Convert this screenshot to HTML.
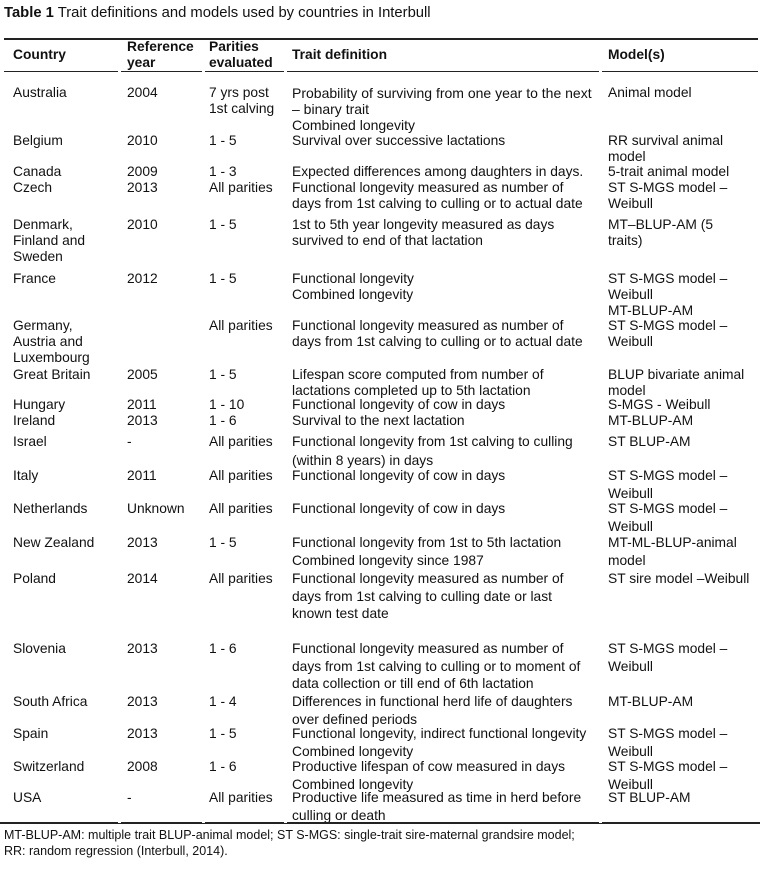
<!DOCTYPE html>
<html><head><meta charset="utf-8"><style>
body{margin:0;width:760px;height:875px;background:#fff;position:relative;overflow:hidden;font-family:"Liberation Sans",Arial,sans-serif;color:#111}
.t{position:absolute;font-size:13.8px;white-space:pre;line-height:16px}
.b{font-weight:bold}
.l{position:absolute;height:1.5px;background:#222}
.g{position:absolute;width:3px;height:3px;background:#fff}
.r{line-height:17.5px}
</style></head><body>
<div class="t" style="left:4px;top:5px;font-size:14.8px"><b>Table 1</b> Trait definitions and models used by countries in Interbull</div>
<div class="l" style="left:4px;width:754px;top:38px"></div>
<div class="l" style="left:4px;width:754px;top:71px;height:1px"></div>
<div class="g" style="left:118px;top:70px"></div><div class="g" style="left:202px;top:70px"></div><div class="g" style="left:284px;top:70px"></div><div class="g" style="left:599px;top:70px"></div>
<div class="t b" style="left:13px;top:47px">Country</div>
<div class="t b" style="left:127px;top:39px">Reference
year</div>
<div class="t b" style="left:209px;top:39px">Parities
evaluated</div>
<div class="t b" style="left:292px;top:47px">Trait definition</div>
<div class="t b" style="left:608px;top:47px">Model(s)</div>

<div class="t" style="left:13px;top:85px">Australia</div><div class="t" style="left:127px;top:85px">2004</div><div class="t" style="left:209px;top:85px">7 yrs post
1st calving</div><div class="t" style="left:292px;top:85px;font-size:14px">Probability of surviving from one year to the next
– binary trait
Combined longevity</div><div class="t" style="left:608px;top:85px">Animal model</div>

<div class="t" style="left:13px;top:133px">Belgium</div><div class="t" style="left:127px;top:133px">2010</div><div class="t" style="left:209px;top:133px">1 - 5</div><div class="t" style="left:292px;top:133px">Survival over successive lactations</div><div class="t" style="left:608px;top:133px">RR survival animal
model</div>

<div class="t" style="left:13px;top:164px">Canada</div><div class="t" style="left:127px;top:164px">2009</div><div class="t" style="left:209px;top:164px">1 - 3</div><div class="t" style="left:292px;top:164px">Expected differences among daughters in days.</div><div class="t" style="left:608px;top:164px">5-trait animal model</div>

<div class="t" style="left:13px;top:180px">Czech</div><div class="t" style="left:127px;top:180px">2013</div><div class="t" style="left:209px;top:180px">All parities</div><div class="t" style="left:292px;top:180px">Functional longevity measured as number of
days from 1st calving to culling or to actual date</div><div class="t" style="left:608px;top:180px">ST S-MGS model –
Weibull</div>

<div class="t" style="left:13px;top:217px">Denmark,
Finland and
Sweden</div><div class="t" style="left:127px;top:217px">2010</div><div class="t" style="left:209px;top:217px">1 - 5</div><div class="t" style="left:292px;top:217px">1st to 5th year longevity measured as days
survived to end of that lactation</div><div class="t" style="left:608px;top:217px">MT–BLUP-AM (5
traits)</div>

<div class="t" style="left:13px;top:271px">France</div><div class="t" style="left:127px;top:271px">2012</div><div class="t" style="left:209px;top:271px">1 - 5</div><div class="t" style="left:292px;top:271px">Functional longevity
Combined longevity</div><div class="t" style="left:608px;top:271px">ST S-MGS model –
Weibull
MT-BLUP-AM</div>

<div class="t" style="left:13px;top:318px">Germany,
Austria and
Luxembourg</div><div class="t" style="left:209px;top:318px">All parities</div><div class="t" style="left:292px;top:318px">Functional longevity measured as number of
days from 1st calving to culling or to actual date</div><div class="t" style="left:608px;top:318px">ST S-MGS model –
Weibull</div>

<div class="t" style="left:13px;top:367px">Great Britain</div><div class="t" style="left:127px;top:367px">2005</div><div class="t" style="left:209px;top:367px">1 - 5</div><div class="t" style="left:292px;top:367px">Lifespan score computed from number of
lactations completed up to 5th lactation</div><div class="t" style="left:608px;top:367px">BLUP bivariate animal
model</div>

<div class="t" style="left:13px;top:397px">Hungary</div><div class="t" style="left:127px;top:397px">2011</div><div class="t" style="left:209px;top:397px">1 - 10</div><div class="t" style="left:292px;top:397px">Functional longevity of cow in days</div><div class="t" style="left:608px;top:397px">S-MGS - Weibull</div>

<div class="t" style="left:13px;top:413px">Ireland</div><div class="t" style="left:127px;top:413px">2013</div><div class="t" style="left:209px;top:413px">1 - 6</div><div class="t" style="left:292px;top:413px">Survival to the next lactation</div><div class="t" style="left:608px;top:413px">MT-BLUP-AM</div>

<div class="t" style="left:13px;top:432px;line-height:19px">Israel</div><div class="t" style="left:127px;top:432px;line-height:19px">-</div><div class="t" style="left:209px;top:432px;line-height:19px">All parities</div><div class="t" style="left:292px;top:432px;line-height:19px">Functional longevity from 1st calving to culling
(within 8 years) in days</div><div class="t" style="left:608px;top:432px;line-height:19px">ST BLUP-AM</div>

<div class="t r" style="left:13px;top:467px">Italy</div><div class="t r" style="left:127px;top:467px">2011</div><div class="t r" style="left:209px;top:467px">All parities</div><div class="t r" style="left:292px;top:467px">Functional longevity of cow in days</div><div class="t r" style="left:608px;top:467px">ST S-MGS model –
Weibull</div>

<div class="t r" style="left:13px;top:500px">Netherlands</div><div class="t r" style="left:127px;top:500px">Unknown</div><div class="t r" style="left:209px;top:500px">All parities</div><div class="t r" style="left:292px;top:500px">Functional longevity of cow in days</div><div class="t r" style="left:608px;top:500px">ST S-MGS model –
Weibull</div>

<div class="t r" style="left:13px;top:534px">New Zealand</div><div class="t r" style="left:127px;top:534px">2013</div><div class="t r" style="left:209px;top:534px">1 - 5</div><div class="t r" style="left:292px;top:534px">Functional longevity from 1st to 5th lactation
Combined longevity since 1987</div><div class="t r" style="left:608px;top:534px">MT-ML-BLUP-animal
model</div>

<div class="t r" style="left:13px;top:570px">Poland</div><div class="t r" style="left:127px;top:570px">2014</div><div class="t r" style="left:209px;top:570px">All parities</div><div class="t r" style="left:292px;top:570px">Functional longevity measured as number of
days from 1st calving to culling date or last
known test date</div><div class="t r" style="left:608px;top:570px">ST sire model –Weibull</div>

<div class="t r" style="left:13px;top:640px">Slovenia</div><div class="t r" style="left:127px;top:640px">2013</div><div class="t r" style="left:209px;top:640px">1 - 6</div><div class="t r" style="left:292px;top:640px">Functional longevity measured as number of
days from 1st calving to culling or to moment of
data collection or till end of 6th lactation</div><div class="t r" style="left:608px;top:640px">ST S-MGS model –
Weibull</div>

<div class="t r" style="left:13px;top:693px">South Africa</div><div class="t r" style="left:127px;top:693px">2013</div><div class="t r" style="left:209px;top:693px">1 - 4</div><div class="t r" style="left:292px;top:693px">Differences in functional herd life of daughters
over defined periods</div><div class="t r" style="left:608px;top:693px">MT-BLUP-AM</div>

<div class="t r" style="left:13px;top:725px">Spain</div><div class="t r" style="left:127px;top:725px">2013</div><div class="t r" style="left:209px;top:725px">1 - 5</div><div class="t r" style="left:292px;top:725px">Functional longevity, indirect functional longevity
Combined longevity</div><div class="t r" style="left:608px;top:725px">ST S-MGS model –
Weibull</div>

<div class="t r" style="left:13px;top:758px">Switzerland</div><div class="t r" style="left:127px;top:758px">2008</div><div class="t r" style="left:209px;top:758px">1 - 6</div><div class="t r" style="left:292px;top:758px">Productive lifespan of cow measured in days
Combined longevity</div><div class="t r" style="left:608px;top:758px">ST S-MGS model –
Weibull</div>

<div class="t r" style="left:13px;top:789px">USA</div><div class="t r" style="left:127px;top:789px">-</div><div class="t r" style="left:209px;top:789px">All parities</div><div class="t r" style="left:292px;top:789px">Productive life measured as time in herd before
culling or death</div><div class="t r" style="left:608px;top:789px">ST BLUP-AM</div>

<div class="l" style="left:0;width:760px;top:822px"></div>
<div class="g" style="left:118px;top:820px"></div><div class="g" style="left:202px;top:820px"></div><div class="g" style="left:284px;top:820px"></div><div class="g" style="left:599px;top:820px"></div>
<div class="t" style="left:4px;top:827px;font-size:12.5px">MT-BLUP-AM: multiple trait BLUP-animal model; ST S-MGS: single-trait sire-maternal grandsire model;
RR: random regression (Interbull, 2014).</div>
</body></html>
